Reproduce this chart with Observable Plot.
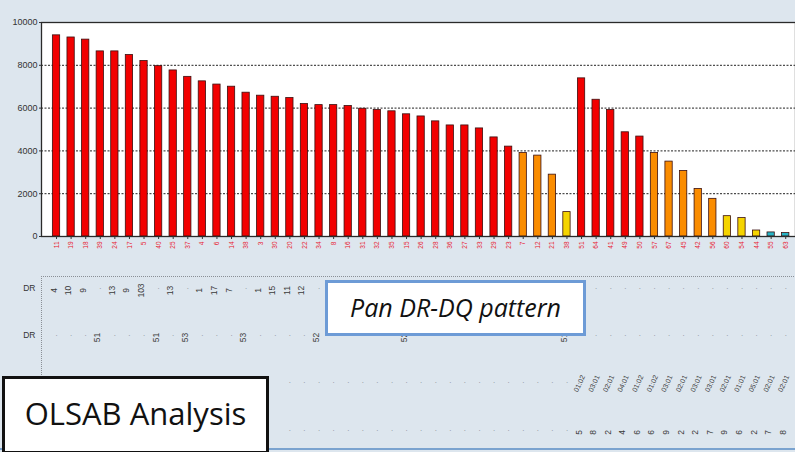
<!DOCTYPE html>
<html><head><meta charset="utf-8">
<script src="https://cdn.jsdelivr.net/npm/d3@7"></script>
<script src="https://cdn.jsdelivr.net/npm/@observablehq/plot@0.6"></script>
<style>
html,body{margin:0;padding:0;background:#dde6ee;}
#wrap{position:relative;width:795px;height:452px;overflow:hidden;background:#dde6ee;}
#wrap svg{position:absolute;left:0;top:0;}
.box{position:absolute;background:#fff;box-sizing:border-box;white-space:nowrap;}
#pan{left:325px;top:280px;width:261px;height:56px;border:3px solid #6d9bd6;font:italic 25px "Open Sans",sans-serif;color:#111;text-align:center;line-height:48px;}
#olsab{left:2px;top:376px;width:267px;height:78px;border:3px solid #111;font:31px "Open Sans",sans-serif;color:#111;text-align:center;line-height:68px;}
#dotframe{position:absolute;left:41px;top:276px;width:760px;height:200px;border-top:1px dotted #8a8f96;border-left:1px dotted #8a8f96;}
#blueline{position:absolute;left:0;top:448px;width:795px;height:2px;background:#7aa3cf;}
</style></head><body><div id="wrap"><div id="dotframe"></div><div id="blueline"></div></div>
<script>
const ids = ["11","19","18","39","24","17","5","40","25","37","4","6","14","38","3","30","20","22","34","8","16","31","32","35","15","26","28","36","27","33","29","23","7","12","21","38","51","64","41","49","50","57","67","45","42","56","60","54","44","55","63"];
const values = [9400,9300,9200,8650,8650,8480,8200,7960,7760,7460,7250,7100,7000,6720,6580,6530,6470,6190,6140,6140,6100,5970,5910,5850,5710,5610,5380,5190,5190,5050,4630,4200,3900,3780,2890,1140,7390,6390,5910,4870,4670,3900,3500,3060,2220,1760,950,860,280,190,160];
const tiers = ["A","A","A","A","A","A","A","A","A","A","A","A","A","A","A","A","A","A","A","A","A","A","A","A","A","A","A","A","A","A","A","A","B","B","B","C","A","A","A","A","A","B","B","B","B","B","C","C","C","D","D"];
const tierNames = ["A","B","C","D"];
const tierColors = ["#f20000","#fa8c00","#f5d400","#26b4c6"];
const yTicks = [0,2000,4000,6000,8000,10000];
const gridTicks = [2000,4000,6000,8000];
const D = "·", E = "";
// rows of the lower panel, one entry per bar ("" = hidden behind a label box)
const row1 = ["4","10","9",D,"13","9","103",D,"13",D,"1","17","7",D,"1","15","11","12",D, E,E,E,E,E,E,E,E,E,E,E,E,E,E,E,E,E,E, D,D,D,D,D,D,D,D,D,D,D,D,D,D];
const row2 = [D,D,D,"51",D,D,D,"51",D,"53",D,D,D,"53",D,D,D,D,"52", D,D,D,D,D,"52",D,D,D,D,D,D,D,D,D,D,"51", D,D,D,D,D,D,D,D,D,D,D,D,D,D,D];
const row3 = [E,E,E,E,E,E,E,E,E,E,E,E,E,E,E,E,D,D,D,D,D,D,D,D,D,D,D,D,D,D,D,D,D,D,D,D,"01:02","03:01","02:01","04:01","01:02","01:02","03:01","02:01","03:01","03:01","02:01","01:01","05:01","02:01","02:01"];
const row4 = [E,E,E,E,E,E,E,E,E,E,E,E,E,E,E,E,D,D,D,D,D,D,D,D,D,D,D,D,D,D,D,D,D,D,D,D,"5","8","2","4","6","6","9","2","2","7","9","6","2","7","8"];
const rowLabels = ["DR","DR"];

const idx = d3.range(values.length);
const rowMark = (row, dy, rotate, size) => [
  Plot.text(idx.filter(i => row[i] === D), {x: i => i, text: () => D, frameAnchor: "bottom", dy, fill: "#8a8f96", fontSize: 8}),
  Plot.text(idx.filter(i => row[i] !== D && row[i] !== E), {x: i => i, text: i => row[i], frameAnchor: "bottom", dy, rotate, fill: "#3a3a3a", fontSize: size})
];

const chart = Plot.plot({
  width: 795, height: 452,
  marginLeft: 41, marginRight: 0, marginTop: 22, marginBottom: 216,
  style: {background: "transparent", fontFamily: "Liberation Sans, Arial, sans-serif"},
  x: {type: "band", domain: idx, paddingInner: 0.5, paddingOuter: 0.6, align: 0.65, round: false},
  y: {domain: [0, 10000]},
  color: {domain: tierNames, range: tierColors},
  marks: [
    Plot.frame({fill: "white", stroke: null}),
    Plot.ruleY(gridTicks, {stroke: "#222", strokeDasharray: "2,1.5", strokeWidth: 1}),
    Plot.barY(idx, {x: i => i, y: i => values[i], fill: i => tiers[i], stroke: "#3a1010", strokeWidth: 0.8}),
    Plot.frame({stroke: "#2a2a2a", strokeWidth: 1.3}),
    Plot.axisY({ticks: yTicks, tickSize: 2, tickPadding: 2, fontSize: 9, fill: "#333", stroke: "#333", label: null, tickFormat: d => String(d)}),
    Plot.axisX({tickFormat: i => ids[i], tickRotate: -90, tickSize: 3, tickPadding: 2, fontSize: 6.5, fill: "#e8202e", stroke: "#333", label: null}),
    ...rowMark(row1, 54, -90, 8.5),
    ...rowMark(row2, 101, -90, 8.5),
    ...rowMark(row3, 148, -65, 7),
    ...rowMark(row4, 196, -90, 8.5),
    Plot.text([rowLabels[0]], {frameAnchor: "bottom-left", dx: -6, dy: 54, textAnchor: "end", fontSize: 8.5, fill: "#333"}),
    Plot.text([rowLabels[1]], {frameAnchor: "bottom-left", dx: -6, dy: 101, textAnchor: "end", fontSize: 8.5, fill: "#333"})
  ]
});
document.getElementById("wrap").prepend(chart);
const pan = document.createElement("div"); pan.className = "box"; pan.id = "pan"; pan.textContent = "Pan DR-DQ pattern";
const ol = document.createElement("div"); ol.className = "box"; ol.id = "olsab"; ol.textContent = "OLSAB Analysis";
document.getElementById("wrap").append(pan, ol);
</script></body></html>
